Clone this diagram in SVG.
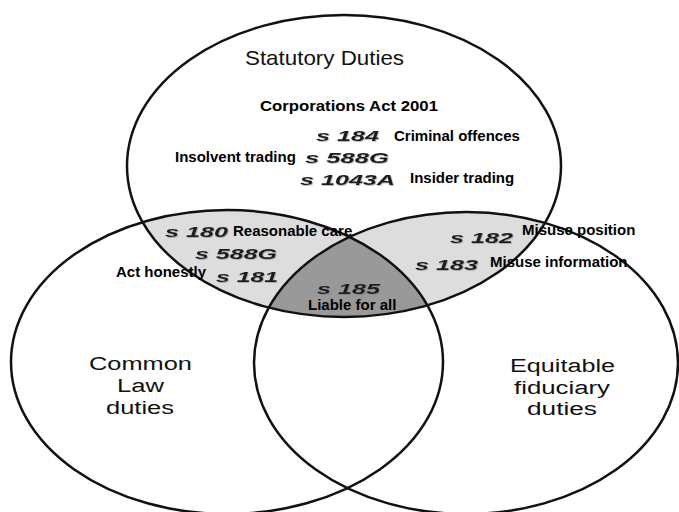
<svg xmlns="http://www.w3.org/2000/svg" width="679" height="512" viewBox="0 0 679 512">
<style>
.ring{fill:none;stroke:#111;stroke-width:2.5}
.light{fill:#dddddd}
.dark{fill:#999999}
.title{font-family:"Liberation Sans",Arial,sans-serif;font-size:21px;fill:#111}
.big{font-family:"Liberation Sans",Arial,sans-serif;font-size:18px;fill:#111}
.lbl{font-family:"Liberation Sans",Arial,sans-serif;font-size:15px;font-weight:bold;fill:#000}
.sec{font-family:"Liberation Sans",Arial,sans-serif;font-size:15.5px;font-weight:bold;font-style:italic;fill:#1a1a1a;filter:url(#soft)}
</style>
<defs>
<clipPath id="clipTop"><ellipse cx="344" cy="166" rx="217" ry="151"/></clipPath>
<clipPath id="clipLeft"><ellipse cx="227" cy="362" rx="216" ry="152"/></clipPath>
<filter id="soft" x="-10%" y="-30%" width="130%" height="170%">
<feDropShadow dx="0.8" dy="0.8" stdDeviation="0.7" flood-color="#777" flood-opacity="0.6"/>
</filter>
</defs>
<rect width="679" height="512" fill="#fff"/>
<g id="overlaps">
<g clip-path="url(#clipTop)">
<ellipse class="light" cx="227" cy="362" rx="216" ry="152"/>
<ellipse class="light" cx="466" cy="363" rx="212" ry="151"/>
<g clip-path="url(#clipLeft)"><ellipse class="dark" cx="466" cy="363" rx="212" ry="151"/></g>
</g>
</g>
<g id="statutory">
<ellipse class="ring" cx="344" cy="166" rx="217" ry="151"/>
<text class="title" x="245" y="64.5" textLength="159" lengthAdjust="spacingAndGlyphs">Statutory Duties</text>
<text class="lbl" x="260" y="110.7" font-size="16" textLength="178" lengthAdjust="spacingAndGlyphs">Corporations Act 2001</text>
<text class="sec" x="316" y="140.7" textLength="63" lengthAdjust="spacingAndGlyphs">s 184</text>
<text class="lbl" x="394" y="140.7">Criminal offences</text>
<text class="lbl" x="175" y="161.7">Insolvent trading</text>
<text class="sec" x="305" y="163" textLength="84" lengthAdjust="spacingAndGlyphs">s 588G</text>
<text class="sec" x="300" y="184.8" textLength="95" lengthAdjust="spacingAndGlyphs">s 1043A</text>
<text class="lbl" x="410" y="183.3">Insider trading</text>
</g>
<g id="common-law">
<ellipse class="ring" cx="227" cy="362" rx="216" ry="152"/>
<text class="big" x="89" y="370" textLength="103" lengthAdjust="spacingAndGlyphs">Common</text>
<text class="big" x="117" y="392" textLength="47" lengthAdjust="spacingAndGlyphs">Law</text>
<text class="big" x="106" y="414" textLength="68" lengthAdjust="spacingAndGlyphs">duties</text>
</g>
<g id="equitable">
<ellipse class="ring" cx="466" cy="363" rx="212" ry="151"/>
<text class="big" x="510" y="372" textLength="105" lengthAdjust="spacingAndGlyphs">Equitable</text>
<text class="big" x="514" y="394" textLength="96" lengthAdjust="spacingAndGlyphs">fiduciary</text>
<text class="big" x="527" y="415" textLength="70" lengthAdjust="spacingAndGlyphs">duties</text>
</g>
<g id="connectors"></g>
<g id="overlap-labels">
<text class="sec" x="165" y="237" textLength="63" lengthAdjust="spacingAndGlyphs">s 180</text>
<text class="lbl" x="233" y="235.7">Reasonable care</text>
<text class="sec" x="195" y="259" textLength="82" lengthAdjust="spacingAndGlyphs">s 588G</text>
<text class="lbl" x="116" y="277.3">Act honestly</text>
<text class="sec" x="216" y="281.5" textLength="62" lengthAdjust="spacingAndGlyphs">s 181</text>
<text class="sec" x="317" y="294" textLength="63" lengthAdjust="spacingAndGlyphs">s 185</text>
<text class="lbl" x="308" y="310">Liable for all</text>
<text class="sec" x="450" y="243" textLength="63" lengthAdjust="spacingAndGlyphs">s 182</text>
<text class="lbl" x="522" y="235">Misuse position</text>
<text class="sec" x="415" y="270" textLength="63" lengthAdjust="spacingAndGlyphs">s 183</text>
<text class="lbl" x="490" y="266.7">Misuse information</text>
</g>
</svg>
